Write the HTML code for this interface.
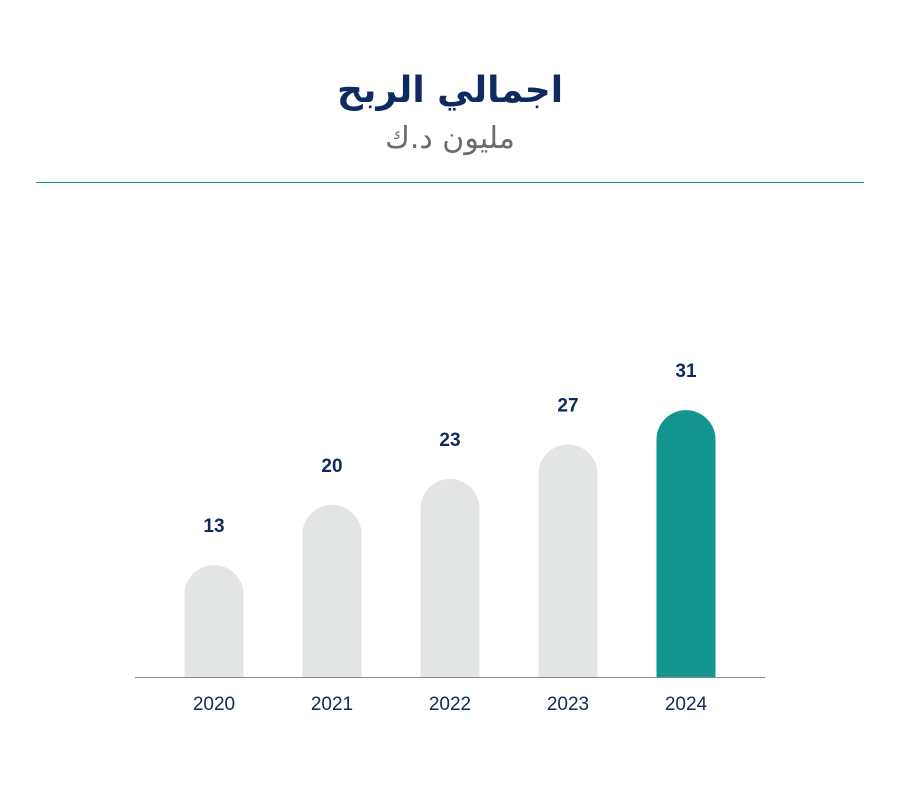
<!DOCTYPE html>
<html><head><meta charset="utf-8"><style>
body{margin:0;background:#fff;width:900px;height:783px;overflow:hidden;font-family:"Liberation Sans","Noto Sans CJK SC",sans-serif}
</style></head><body>
<svg width="900" height="783" xmlns="http://www.w3.org/2000/svg">
<text x="450" y="102" text-anchor="middle" font-size="36" font-weight="bold" fill="#0f2a5e" font-family="DejaVu Sans, sans-serif">اجمالي الربح</text>
<text x="450" y="148" text-anchor="middle" font-size="30" fill="#6b6b6b" font-family="DejaVu Sans, sans-serif">مليون د.ك</text>
<line x1="36" y1="182.5" x2="864" y2="182.5" stroke="#12968f" stroke-width="1"/>
<g id="bars"></g>
<line x1="135" y1="677.5" x2="765" y2="677.5" stroke="#8a8a8a" stroke-width="1"/>
</svg>
<script>
const categories=["2020","2021","2022","2023","2024"];
const values=[13,20,23,27,31];
const highlight=[false,false,false,false,true];
const ns="http://www.w3.org/2000/svg";
const g=document.getElementById("bars");
const baseY=677, scale=8.61, x0=214, step=118, w=59;
function xPos(i){return x0+i*step;}
function yPos(v){return baseY-v*scale;}
categories.forEach((c,i)=>{
  const cx=xPos(i), top=yPos(values[i]), r=w/2;
  const p=document.createElementNS(ns,"path");
  p.setAttribute("d",`M${cx-r},${baseY} L${cx-r},${top+r} A${r},${r} 0 0 1 ${cx+r},${top+r} L${cx+r},${baseY} Z`);
  p.setAttribute("fill",highlight[i]?"#139690":"#e3e4e4");
  
  
  g.appendChild(p);
  const t=document.createElementNS(ns,"text");
  t.setAttribute("x",cx);t.setAttribute("y",top-33);
  t.setAttribute("text-anchor","middle");t.setAttribute("font-size","19");
  t.setAttribute("font-weight","bold");t.setAttribute("fill","#0f2a5e");
  t.textContent=values[i];
  
  
  g.appendChild(t);
  const y=document.createElementNS(ns,"text");
  y.setAttribute("x",cx);y.setAttribute("y",710);
  y.setAttribute("text-anchor","middle");y.setAttribute("font-size","19");
  y.setAttribute("fill","#0f2a5e");
  y.textContent=c;
  
  
  g.appendChild(y);
});
</script>
</body></html>
